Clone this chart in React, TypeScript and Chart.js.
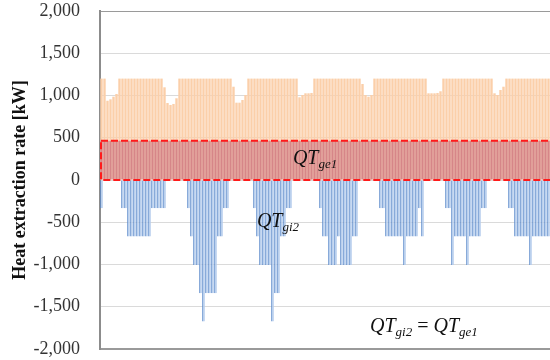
import React, { useEffect, useRef } from 'react';
import { Chart, registerables } from 'chart.js';

Chart.register(...registerables);

// 150 time steps (periods)
const periods = [
  '1','2','3','4','5','6','7','8','9','10','11','12','13','14','15','16','17','18','19','20',
  '21','22','23','24','25','26','27','28','29','30','31','32','33','34','35','36','37','38','39','40',
  '41','42','43','44','45','46','47','48','49','50','51','52','53','54','55','56','57','58','59','60',
  '61','62','63','64','65','66','67','68','69','70','71','72','73','74','75','76','77','78','79','80',
  '81','82','83','84','85','86','87','88','89','90','91','92','93','94','95','96','97','98','99','100',
  '101','102','103','104','105','106','107','108','109','110','111','112','113','114','115','116','117','118','119','120',
  '121','122','123','124','125','126','127','128','129','130','131','132','133','134','135','136','137','138','139','140',
  '141','142','143','144','145','146','147','148','149','150',
];

// QT_ge1 : constant ground heat extraction [kW]
const qtGe1 = [
  465,465,465,465,465,465,465,465,465,465, 465,465,465,465,465,465,465,465,465,465,
  465,465,465,465,465,465,465,465,465,465, 465,465,465,465,465,465,465,465,465,465,
  465,465,465,465,465,465,465,465,465,465, 465,465,465,465,465,465,465,465,465,465,
  465,465,465,465,465,465,465,465,465,465, 465,465,465,465,465,465,465,465,465,465,
  465,465,465,465,465,465,465,465,465,465, 465,465,465,465,465,465,465,465,465,465,
  465,465,465,465,465,465,465,465,465,465, 465,465,465,465,465,465,465,465,465,465,
  465,465,465,465,465,465,465,465,465,465, 465,465,465,465,465,465,465,465,465,465,
  465,465,465,465,465,465,465,465,465,465,
];

// Upper (orange) heat extraction series [kW]
const qtUpper = [
  1200,1200,938,955,986,1018,1200,1200,1200,1200,
  1200,1200,1200,1200,1200,1200,1200,1200,1200,1200,
  1200,1097,911,888,900,967,1200,1200,1200,1200,
  1200,1200,1200,1200,1200,1200,1200,1200,1200,1200,
  1200,1200,1200,1200,1104,915,915,947,1006,1200,
  1200,1200,1200,1200,1200,1200,1200,1200,1200,1200,
  1200,1200,1200,1200,1200,1200,979,1006,1026,1026,
  1030,1200,1200,1200,1200,1200,1200,1200,1200,1200,
  1200,1200,1200,1200,1200,1200,1200,1136,1006,986,
  1006,1200,1200,1200,1200,1200,1200,1200,1200,1200,
  1200,1200,1200,1200,1200,1200,1200,1200,1200,1026,
  1026,1026,1030,1050,1200,1200,1200,1200,1200,1200,
  1200,1200,1200,1200,1200,1200,1200,1200,1200,1200,
  1200,1026,1006,1065,1104,1200,1200,1200,1200,1200,
  1200,1200,1200,1200,1200,1200,1200,1200,1200,1200,
];

// QT_gi2 : heat injection (negative) [kW]
const qtGi2 = [
  -335,0,0,0,0,0,0,-335,-335,-670,
  -670,-670,-670,-670,-670,-670,-670,-335,-335,-335,
  -335,-335,0,0,0,0,0,0,0,-335,
  -670,-1005,-1005,-1340,-1675,-1340,-1340,-1340,-1340,-670,
  -670,-335,-335,0,0,0,0,0,0,0,
  0,-335,-670,-1005,-1005,-1005,-1005,-1675,-1340,-1340,
  -670,-670,-335,-335,0,0,0,0,0,0,
  0,0,0,-335,-670,-670,-1005,-1005,-1005,-670,
  -1005,-1005,-1005,-1005,-670,-670,0,0,0,0,
  0,0,0,-335,-335,-670,-670,-670,-670,-670,
  -670,-1005,-670,-670,-670,-670,-335,-670,0,0,
  0,0,0,0,0,-335,-335,-1005,-670,-670,
  -670,-670,-1005,-670,-670,-670,-670,-335,-335,0,
  0,0,0,0,0,0,-335,-335,-670,-670,
  -670,-670,-670,-1005,-670,-670,-670,-670,-670,-670,
];

const yTickMin = -2000;
const yTickMax = 2000;
const yTickStep = 500;

// text notes: [main, subscript] pieces placed at (category index, value)
const notes = [
  { parts: [['QT', 'ge1']], x: 63.8, y: 190 },
  { parts: [['QT', 'gi2']], x: 51.8, y: -556 },
  { parts: [['QT', 'gi2'], [' = ', ''], ['QT', 'ge1']], x: 89.5, y: -1800 },
];

const SERIF = '"Liberation Serif", "Times New Roman", serif';

const overlayPlugin = {
  id: 'overlay',
  afterDatasetsDraw(chart: any) {
    const { ctx, chartArea, scales } = chart;
    const y = scales.y;
    const x = scales.x;
    const top = y.getPixelForValue(Math.max(...qtGe1));
    const bottom = y.getPixelForValue(0);
    ctx.save();
    ctx.strokeStyle = '#ff1a1a';
    ctx.lineWidth = 2;
    ctx.setLineDash([7, 3]);
    ctx.strokeRect(chartArea.left + 1, top, chartArea.right - chartArea.left + 10, bottom - top);
    ctx.setLineDash([]);

    ctx.fillStyle = '#111';
    ctx.textBaseline = 'alphabetic';
    ctx.textAlign = 'left';
    for (const n of notes) {
      let px = x.getPixelForValue(n.x);
      const py = y.getPixelForValue(n.y);
      for (const [main, sub] of n.parts) {
        ctx.font = main.trim() === '=' ? `20px ${SERIF}` : `italic 20px ${SERIF}`;
        ctx.fillText(main, px, py);
        px += ctx.measureText(main).width;
        if (sub) {
          ctx.font = `italic 13px ${SERIF}`;
          ctx.fillText(sub, px, py + 4);
          px += ctx.measureText(sub).width;
        }
      }
    }
    ctx.restore();
  },
};

export default function App() {
  const ref = useRef<HTMLCanvasElement | null>(null);

  useEffect(() => {
    if (!ref.current) return;
    const chart = new Chart(ref.current, {
      type: 'bar',
      data: {
        labels: periods,
        datasets: [
          {
            label: 'QTge1',
            data: qtGe1,
            backgroundColor: '#d68688',
            borderWidth: 0,
            grouped: false,
            barPercentage: 1,
            categoryPercentage: 0.8,
          } as any,
          {
            label: 'upper',
            data: qtUpper,
            backgroundColor: '#fbcfa9',
            borderWidth: 0,
            grouped: false,
            barPercentage: 1,
            categoryPercentage: 0.8,
          } as any,
          {
            label: 'QTgi2',
            data: qtGi2,
            backgroundColor: '#b3cbec',
            borderColor: '#5b8acb',
            borderWidth: { left: 1, right: 0, top: 0, bottom: 0 },
            borderSkipped: false,
            grouped: false,
            barPercentage: 1,
            categoryPercentage: 0.9,
          } as any,
        ],
      },
      options: {
        animation: false,
        responsive: true,
        maintainAspectRatio: false,
        devicePixelRatio: 1,
        layout: { padding: { top: 11, bottom: 11, left: 0, right: 0 } },
        plugins: {
          legend: { display: false },
          tooltip: { enabled: false },
        },
        scales: {
          x: { display: false },
          y: {
            min: yTickMin,
            max: yTickMax,
            ticks: {
              stepSize: yTickStep,
              padding: 0,
              color: '#333',
              font: { family: SERIF, size: 18 },
            },
            grid: {
              drawTicks: true,
              tickLength: 20,
              tickColor: 'rgba(0,0,0,0)',
              color: (c: any) =>
                c.tick && (c.tick.value === yTickMin || c.tick.value === yTickMax) ? '#9a9a9a' : '#dadada',
              lineWidth: (c: any) => (c.tick && c.tick.value === yTickMin ? 2 : 1),
            },
            border: { color: '#8c8c8c', width: 2 },
            title: {
              display: true,
              text: 'Heat extraction rate [kW]',
              color: '#111',
              font: { family: SERIF, size: 18, weight: 'bold' },
              padding: { top: 10, bottom: 0 },
            },
            afterFit: (s: any) => {
              s.width = 100;
            },
          },
        },
      },
      plugins: [overlayPlugin],
    } as any);
    return () => chart.destroy();
  }, []);

  return (
    <div style={{ position: 'absolute', left: 0, top: 0, width: 550, height: 360, background: '#fff' }}>
      <canvas ref={ref} />
    </div>
  );
}
